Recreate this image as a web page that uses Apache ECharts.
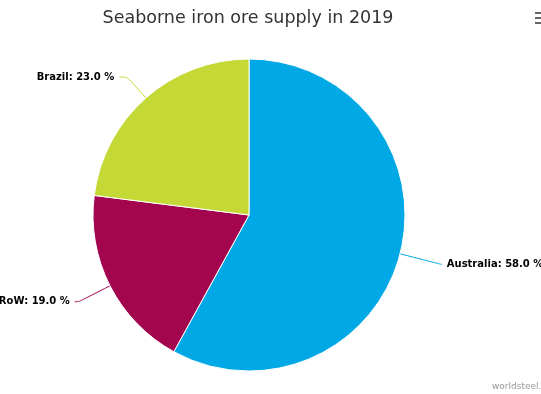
<!DOCTYPE html>
<html><head><meta charset="utf-8">
<script src="https://cdn.jsdelivr.net/npm/echarts@6/dist/echarts.min.js"></script>
<style>html,body{margin:0;padding:0;background:#fff}#c{width:541px;height:394px}</style>
</head><body><div id="c"></div>
<script>
const categories = ['Australia', 'RoW', 'Brazil'];
const values = [58.0, 19.0, 23.0];
const colors = ['#00a8e6', '#a3064f', '#c5d936'];
const lineLen = [42, 35, 28];
const lineLen2 = [1, 4, 8];

const chart = echarts.init(document.getElementById('c'), null, {renderer: 'canvas'});
chart.setOption({
  animation: false,
  backgroundColor: '#ffffff',
  title: {
    text: 'Seaborne iron ore supply in 2019',
    left: 243, top: 4, textAlign: 'center',
    textStyle: {fontFamily: 'DejaVu Sans', fontSize: 17.5, fontWeight: 'normal', color: '#333333'}
  },
  graphic: [
    {type: 'rect', shape: {x: 535, y: 12, width: 6, height: 2}, style: {fill: '#666'}},
    {type: 'rect', shape: {x: 535, y: 17, width: 6, height: 2}, style: {fill: '#666'}},
    {type: 'rect', shape: {x: 535, y: 22, width: 6, height: 2}, style: {fill: '#666'}},
    {type: 'text', left: 492, top: 382, style: {text: 'worldsteel.org', fill: '#999999', font: '9px "DejaVu Sans"'}}
  ],
  series: [{
    type: 'pie',
    center: [249, 215],
    radius: 156,
    startAngle: 90,
    clockwise: true,
    avoidLabelOverlap: false,
    itemStyle: {borderColor: '#ffffff', borderWidth: 1},
    label: {
      show: true,
      overflow: 'none',
      formatter: p => p.name + ': ' + p.value.toFixed(1) + ' %',
      fontFamily: 'DejaVu Sans', fontSize: 10, fontWeight: 'bold', color: '#000000',
      textBorderColor: '#ffffff', textBorderWidth: 1.5
    },
    labelLine: {show: true, length: 30, length2: 6, smooth: 0.3, lineStyle: {width: 1}},
    data: categories.map((c, i) => ({
      name: c, value: values[i],
      itemStyle: {color: colors[i]},
      labelLine: {length: lineLen[i], length2: lineLen2[i], lineStyle: {color: colors[i]}}
    }))
  }]
});
</script></body></html>
